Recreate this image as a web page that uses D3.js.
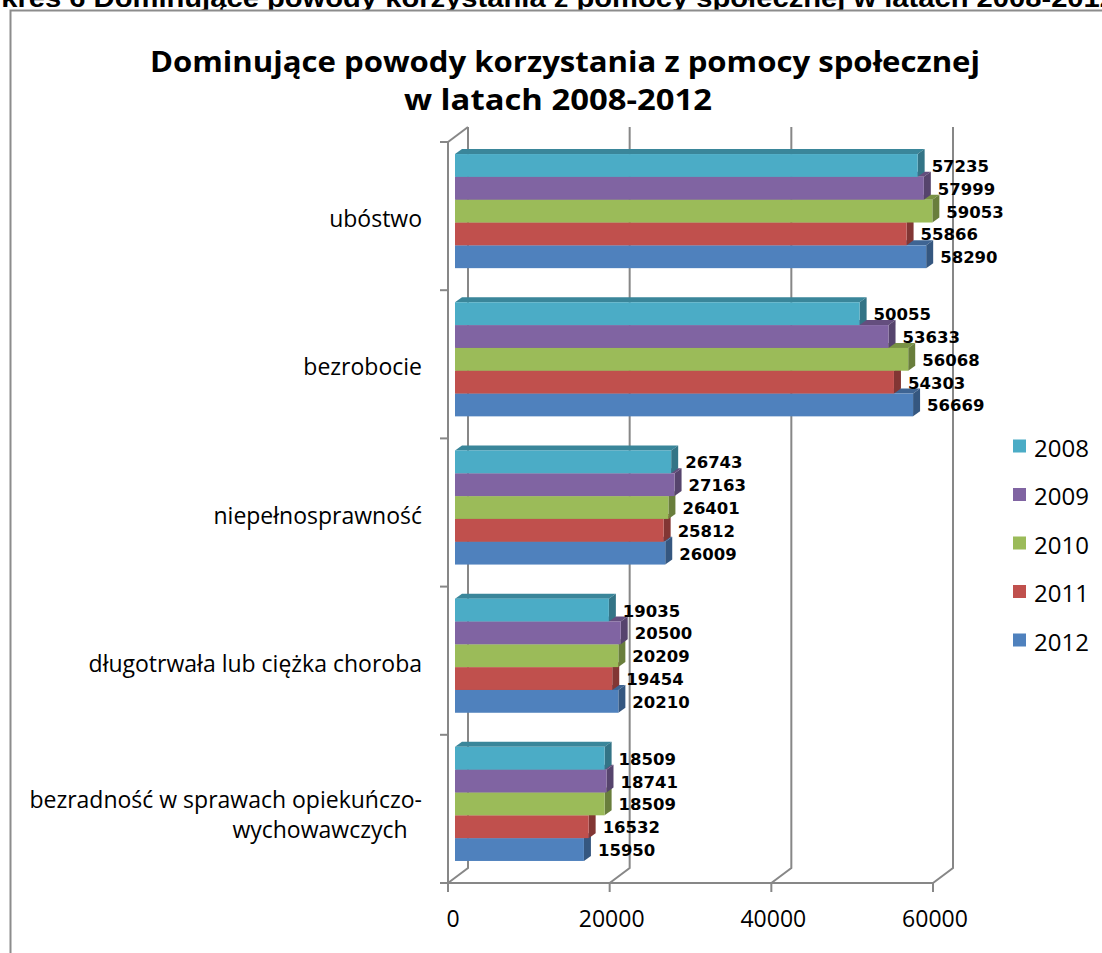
<!DOCTYPE html>
<html>
<head>
<meta charset="utf-8">
<script src="https://cdn.jsdelivr.net/npm/d3@7"></script>
<style>
  html, body { margin: 0; background: #fff; overflow: hidden; }
  svg { display: block; }
</style>
</head>
<body>
<div id="chart"></div>
<script>
const categories = [
    "ubóstwo",
    "bezrobocie",
    "niepełnosprawność",
    "długotrwała lub ciężka choroba",
    "bezradność w sprawach opiekuńczo-|wychowawczych"
]
const years = ["2008", "2009", "2010", "2011", "2012"]
const values2008 = [57235, 50055, 26743, 19035, 18509]
const values2009 = [57999, 53633, 27163, 20500, 18741]
const values2010 = [59053, 56068, 26401, 20209, 18509]
const values2011 = [55866, 54303, 25812, 19454, 16532]
const values2012 = [58290, 56669, 26009, 20210, 15950]
const xTicks = [0, 20000, 40000, 60000]
const colors = ["#4BACC6", "#8064A2", "#9BBB59", "#C0504D", "#4F81BD"]

const series = [values2008, values2009, values2010, values2011, values2012]

const width = 1102
const height = 953

// 3D offsets: back wall relative to front plane, bar plane and bar depth
const wall = {dx: 20, dy: -15}
const barShift = {dx: 7, dy: -5}
const depth = {dx: 7, dy: -5}
const gridColor = "#878787"

const svg = d3.select("#chart")
    .append("svg")
    .attr("width", width)
    .attr("height", height)

// caption cut by the page edge
svg.append("text")
    .attr("x", -42)
    .attr("y", 7)
    .attr("font-family", "Liberation Sans, Arial, sans-serif")
    .attr("font-weight", "bold")
    .attr("font-size", 25)
    .attr("textLength", 1158)
    .attr("lengthAdjust", "spacingAndGlyphs")
    .attr("fill", "#000")
    .text("Wykres 6 Dominujące powody korzystania z pomocy społecznej w latach 2008-2012")

// chart frame
svg.append("rect")
    .attr("x", 10.5)
    .attr("y", 10.5)
    .attr("width", 1200)
    .attr("height", 1000)
    .attr("fill", "#fff")
    .attr("stroke", "#8c8c8c")
    .attr("stroke-width", 2)

// title
const title = svg.append("text")
    .attr("text-anchor", "middle")
    .attr("font-family", "Open Sans, sans-serif")
    .attr("font-weight", "bold")
    .attr("font-size", 29)
    .attr("fill", "#000")
title.append("tspan").attr("x", 565).attr("y", 72)
    .attr("textLength", 830).attr("lengthAdjust", "spacingAndGlyphs")
    .text("Dominujące powody korzystania z pomocy społecznej")
title.append("tspan").attr("x", 558).attr("y", 110)
    .attr("textLength", 308).attr("lengthAdjust", "spacingAndGlyphs")
    .text("w latach 2008-2012")

const xScale = d3.scaleLinear()
    .domain([0, 60000])
    .range([448, 933])

const yScale = d3.scaleBand()
    .domain(categories)
    .range([142, 883])
    .paddingInner(0.23)
    .paddingOuter(0.115)

const yYear = d3.scaleBand()
    .domain(years)
    .range([0, yScale.bandwidth()])

const yTop = 142, yBottom = 883
const step = yScale.step()
const bounds = d3.range(categories.length + 1).map(i => yTop + i * step)

const grid = svg.append("g")
    .attr("stroke", gridColor)
    .attr("stroke-width", 2)
    .attr("fill", "none")

// back wall verticals + floor diagonals
xTicks.forEach(t => {
    const x = xScale(t)
    grid.append("path")
        .attr("d", `M${x},${yBottom} L${x + wall.dx},${yBottom + wall.dy} L${x + wall.dx},${yTop + wall.dy}`)
})
// left wall top diagonal
grid.append("path")
    .attr("d", `M${xScale(0)},${yTop} L${xScale(0) + wall.dx},${yTop + wall.dy}`)

// front left axis with category ticks
grid.append("path")
    .attr("d", `M${xScale(0)},${yTop} L${xScale(0)},${yBottom}`)
bounds.forEach(y => {
    grid.append("path").attr("d", `M${xScale(0) - 8},${y} L${xScale(0)},${y}`)
})
// front floor line with ticks
grid.append("path")
    .attr("d", `M${xScale(0) - 8},${yBottom} L${xScale(60000)},${yBottom}`)
xTicks.forEach(t => {
    grid.append("path").attr("d", `M${xScale(t)},${yBottom} L${xScale(t)},${yBottom + 9}`)
})

// bars, drawn bottom-up so upper bars hide the top faces below
const bars = svg.append("g")
categories.forEach((cat, ci) => {
    for (let si = years.length - 1; si >= 0; si--) {
        const v = series[si][ci]
        const x0 = xScale(0) + barShift.dx
        const x1 = xScale(v) + barShift.dx
        const y0 = yScale(cat) + yYear(years[si]) + barShift.dy
        const h = yYear.bandwidth()
        const c = d3.color(colors[si])
        bars.append("path")
            .attr("d", `M${x0},${y0} L${x0 + depth.dx},${y0 + depth.dy} L${x1 + depth.dx},${y0 + depth.dy} L${x1},${y0} Z`)
            .attr("fill", c.darker(0.7))
        bars.append("path")
            .attr("d", `M${x1},${y0} L${x1 + depth.dx},${y0 + depth.dy} L${x1 + depth.dx},${y0 + h + depth.dy} L${x1},${y0 + h} Z`)
            .attr("fill", c.darker(1.1))
        bars.append("rect")
            .attr("x", x0)
            .attr("y", y0)
            .attr("width", x1 - x0)
            .attr("height", h)
            .attr("fill", colors[si])
    }
})

// value labels
const labels = svg.append("g")
    .attr("font-family", "DejaVu Sans, sans-serif")
    .attr("font-weight", "bold")
    .attr("font-size", 16.5)
    .attr("fill", "#000")
categories.forEach((cat, ci) => {
    years.forEach((yr, si) => {
        const v = series[si][ci]
        labels.append("text")
            .attr("x", xScale(v) + barShift.dx + 14)
            .attr("y", yScale(cat) + yYear(yr) + barShift.dy + yYear.bandwidth() / 2 + 1)
            .attr("dominant-baseline", "central")
            .text(v)
    })
})

// category labels
const catLabels = svg.append("g")
    .attr("font-family", "Open Sans, sans-serif")
    .attr("font-size", 23)
    .attr("fill", "#000")
categories.forEach((cat, ci) => {
    const cy = bounds[ci] + step / 2 + 2
    const lines = cat.split("|")
    if (lines.length === 1) {
        catLabels.append("text")
            .attr("x", 422)
            .attr("y", cy)
            .attr("text-anchor", "end")
            .attr("dominant-baseline", "central")
            .text(lines[0])
    } else {
        catLabels.append("text")
            .attr("x", 422)
            .attr("y", cy - 12)
            .attr("text-anchor", "end")
            .attr("dominant-baseline", "central")
            .text(lines[0])
        catLabels.append("text")
            .attr("x", 320)
            .attr("y", cy + 18)
            .attr("text-anchor", "middle")
            .attr("dominant-baseline", "central")
            .text(lines[1])
    }
})

// x tick labels
svg.append("g")
    .attr("font-family", "Open Sans, sans-serif")
    .attr("font-size", 23)
    .attr("fill", "#000")
    .selectAll("text")
    .data(xTicks)
    .join("text")
    .attr("x", d => xScale(d) + (d === 0 ? 5 : 2))
    .attr("y", 918)
    .attr("text-anchor", "middle")
    .attr("dominant-baseline", "central")
    .text(d => d)

// legend
const legend = svg.append("g")
    .attr("font-family", "Open Sans, sans-serif")
    .attr("font-size", 24)
    .attr("fill", "#000")
years.forEach((yr, i) => {
    const cy = 446 + i * 48.5
    legend.append("rect")
        .attr("x", 1013)
        .attr("y", cy - 6.5)
        .attr("width", 13)
        .attr("height", 13)
        .attr("fill", colors[i])
    legend.append("text")
        .attr("x", 1034)
        .attr("y", cy + 1)
        .attr("dominant-baseline", "central")
        .text(yr)
})
</script>
</body>
</html>
